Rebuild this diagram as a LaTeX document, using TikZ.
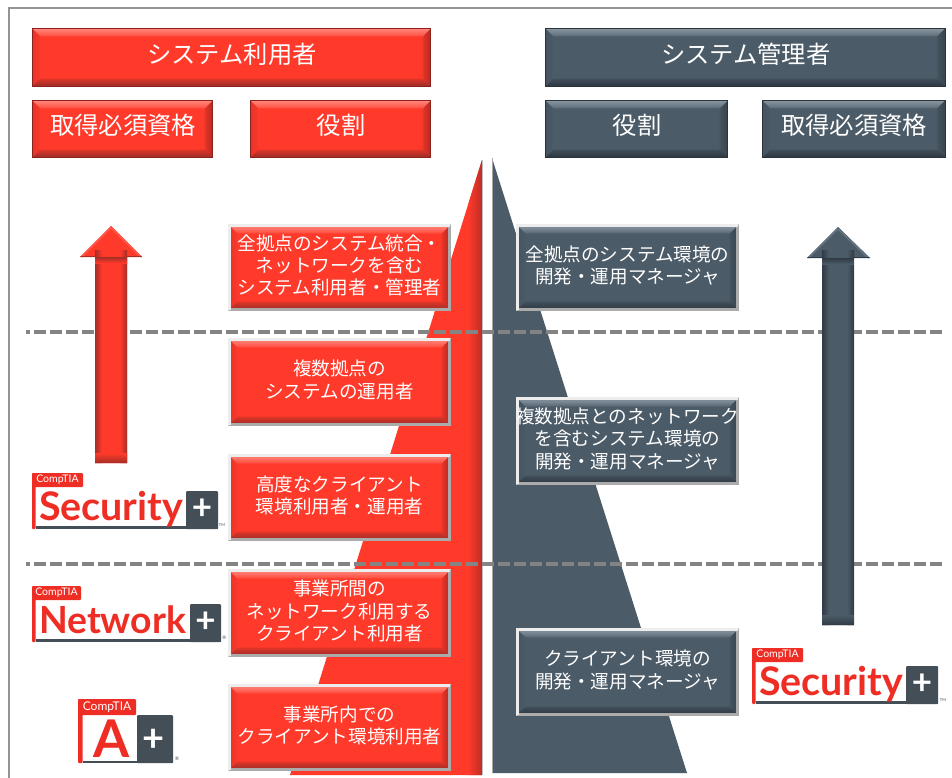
\documentclass[tikz,border=0pt]{standalone}
\usepackage{fontspec}
\usepackage{graphicx}
\setmainfont{Noto Sans CJK JP}
\newfontfamily\logofont{Lato}
\usetikzlibrary{calc}
\definecolor{rmain}{HTML}{FF3A2B}
\definecolor{rtop}{HTML}{FF8479}
\definecolor{rside}{HTML}{E8352A}
\definecolor{rsider}{HTML}{BE2C23}
\definecolor{rbot}{HTML}{A52E26}
\definecolor{redge}{HTML}{8A231D}
\definecolor{dmain}{HTML}{4B5B67}
\definecolor{dtop}{HTML}{8795A0}
\definecolor{dside}{HTML}{465561}
\definecolor{dsider}{HTML}{3A4751}
\definecolor{dbot}{HTML}{303A44}
\definecolor{dedge}{HTML}{2A333A}
\definecolor{lgred}{HTML}{EE2D24}
\definecolor{lgdark}{HTML}{434E57}
\definecolor{dashgray}{HTML}{848484}
\newcommand{\bevfill}[6]{% width, main, top, left, right, bottom
  \coordinate (nw) at (path picture bounding box.north west);
  \coordinate (ne) at (path picture bounding box.north east);
  \coordinate (sw) at (path picture bounding box.south west);
  \coordinate (se) at (path picture bounding box.south east);
  \foreach \w/\p in {1/35,0.8/55,0.6/70,0.4/85,0.2/100}{
    \fill[#4!\p!#2] (nw) -- (sw) -- ($(sw)+({#1*\w},{-#1*\w})$) -- ($(nw)+({#1*\w},{#1*\w})$) -- cycle;
    \fill[#5!\p!#2] (ne) -- (se) -- ($(se)+({-#1*\w},{-#1*\w})$) -- ($(ne)+({-#1*\w},{#1*\w})$) -- cycle;
    \fill[#3!\p!#2] (nw) -- (ne) -- ($(ne)+({-#1*\w},{#1*\w})$) -- ($(nw)+({#1*\w},{#1*\w})$) -- cycle;
    \fill[#6!\p!#2] (sw) -- (se) -- ($(se)+({-#1*\w},{-#1*\w})$) -- ($(sw)+({#1*\w},{-#1*\w})$) -- cycle;
  }
}
\tikzset{
  x=1pt,y=-1pt,
  bx/.style={rectangle,inner sep=0pt,outer sep=0pt},
  redbev/.style={bx,fill=rmain,path picture={\bevfill{#1}{rmain}{rtop}{rside}{rsider}{rbot}}},
  darkbev/.style={bx,fill=dmain,path picture={\bevfill{#1}{dmain}{dtop}{dside}{dsider}{dbot}}},
  headred/.style={redbev=8,draw=redge,line width=0.8pt},
  headdark/.style={darkbev=8,draw=dedge,line width=0.8pt},
  rolered/.style={redbev=8,draw=black!20,line width=2.6pt},
  roledark/.style={darkbev=8,draw=black!20,line width=2.6pt},
  headtext/.style={inner sep=0pt,outer sep=0pt,text=white,align=center,font=\fontsize{24.3}{28}\selectfont},
  roletext/.style={inner sep=0pt,outer sep=0pt,text=white,align=center,font=\fontsize{18.6}{22.4}\selectfont},
  levelline/.style={draw=dashgray,line width=3.4pt,dash pattern=on 12pt off 4pt,dash phase=8pt},
  logotext/.style={inner sep=0pt,outer sep=0pt,text=white},
}
% style, name, x1, y1, x2, y2, text
\newcommand{\headnode}[7]{%
  \node[#1,minimum width={#5-#3},minimum height={#6-#4}] (#2) at ({(#3+#5)/2},{(#4+#6)/2}) {};
  \node[headtext] (#2t) at ($(#2.center)+(0.5,-3.5)$) {#7};
}
\newcommand{\rolenode}[7]{%
  \node[#1,minimum width={#5-#3},minimum height={#6-#4}] (#2) at ({(#3+#5)/2},{(#4+#6)/2}) {};
  \draw[black!33,line width=2.6pt] (#2.south west) -- (#2.south east) -- (#2.north east);
  \draw[black!7,line width=2.6pt] (#2.south west) -- (#2.north west) -- (#2.north east);
  \node[roletext] (#2t) at ($(#2.center)+(0,-2)$) {#7};
}
% name, x, y, tab width, total width, plus-box width, word, word width
\newcommand{\wordlogo}[8]{%
  \begin{scope}[shift={(#2,#3)}]
    \fill[lgred,rounded corners=1pt] (0,0) rectangle (#4,14);
    \fill[lgred,rounded corners=1pt] (0,0) rectangle (3.5,56);
    \fill[lgdark] (3.5,53) rectangle (#5,56);
    \fill[lgdark,rounded corners=1pt] ({#5-#6},18) rectangle (#5,56);
    \node[logotext,font=\logofont\fontsize{10.5}{12}\selectfont] (#1tab) at ({#4/2},7) {CompTIA};
    \node[inner sep=0pt,outer sep=0pt,anchor=base west,text=lgred,font=\logofont\bfseries\fontsize{38}{40}\selectfont] (#1word) at (7,47) {\resizebox{#8pt}{!}{#7}};
    \node[logotext,font=\logofont\bfseries\fontsize{35}{36}\selectfont] (#1plus) at ({#5-#6/2},36.5) {+};
  \end{scope}
}
\begin{document}
\begin{tikzpicture}
\useasboundingbox (0,0) rectangle (952,778);
\fill[white] (0,0) rectangle (952,778);
% frame
\draw[black!42,line width=2pt] (952,8.5) -- (8.5,8.5) -- (8.5,778);
% triangles
\begin{scope}
  \clip (482,160) -- (482,775) -- (290,775) -- cycle;
  \fill[rmain] (280,150) rectangle (490,780);
  \shade[left color=rmain,right color=rsider] (468,150) rectangle (482,780);
\end{scope}
\draw[black!25,line width=1pt] (482.5,160) -- (482.5,775);
\begin{scope}
  \clip (492,158) -- (687,773) -- (492,773) -- cycle;
  \fill[dmain] (490,150) rectangle (700,780);
\end{scope}
\draw[black!35,line width=1pt] (492,158) -- (492,773);
% level lines
\coordinate (la) at (26,332); \coordinate (lb) at (945,332);
\coordinate (lc) at (26,564); \coordinate (ld) at (945,564);
\draw[levelline] (la) -- (lb);
\draw[levelline] (lc) -- (ld);
% arrows
\begin{scope}
  \path[clip] (111,226) -- (142,257) -- (127,257) -- (127,463) -- (95,463) -- (95,257) -- (80,257) -- cycle;
  \fill[rmain] (70,220) rectangle (150,470);
  \shade[left color=rbot,right color=rmain] (95,250) rectangle (102,470);
  \shade[left color=rmain,right color=rbot] (120,250) rectangle (127,470);
  \shade[top color=rmain,bottom color=rbot] (95,453) rectangle (127,463);
  \shade[top color=rbot,bottom color=rmain] (95,257) rectangle (127,263);
  \fill[rmain!65!rtop] (111,226) -- (80,257) -- (82.5,257) -- (111,229) -- (139.5,257) -- (142,257) -- cycle;
  \fill[rbot] (80,255.6) rectangle (95,257);
  \fill[rbot] (127,255.6) rectangle (142,257);
\end{scope}
\begin{scope}
  \path[clip] (838,227) -- (870,258) -- (854,258) -- (854,625) -- (822,625) -- (822,258) -- (807,258) -- cycle;
  \fill[dmain] (800,220) rectangle (880,630);
  \shade[left color=dbot,right color=dmain] (822,250) rectangle (829,630);
  \shade[left color=dmain,right color=dbot] (847,250) rectangle (854,630);
  \shade[top color=dmain,bottom color=dbot] (822,615) rectangle (854,625);
  \shade[top color=dbot,bottom color=dmain] (822,258) rectangle (854,264);
  \fill[dmain!60!dtop] (838,227) -- (807,258) -- (809.5,258) -- (838,230) -- (867,258) -- (870,258) -- cycle;
  \fill[dbot] (807,256.6) rectangle (822,258);
  \fill[dbot] (854,256.6) rectangle (870,258);
\end{scope}
% headers
\headnode{headred}{hu}{32.4}{28.4}{430.6}{86.6}{システム利用者}
\headnode{headred}{hq}{32.4}{100.4}{212.6}{157.6}{取得必須資格}
\headnode{headred}{hr}{250.4}{100.4}{430.6}{157.6}{役割}
\headnode{headdark}{au}{545.4}{28.4}{945}{86.6}{システム管理者}
\headnode{headdark}{ar}{545.4}{100.4}{727.6}{157.6}{役割}
\headnode{headdark}{aq}{762.4}{100.4}{945}{157.6}{取得必須資格}
% role boxes
\rolenode{rolered}{r1}{229.3}{225.3}{449.7}{309.7}{全拠点のシステム統合・\\ネットワークを含む\\システム利用者・管理者}
\rolenode{rolered}{r2}{229.3}{339.3}{449.7}{424.7}{複数拠点の\\システムの運用者}
\rolenode{rolered}{r3}{229.3}{455.3}{449.7}{539.7}{高度なクライアント\\環境利用者・運用者}
\rolenode{rolered}{r4}{229.3}{570.3}{449.7}{655.7}{事業所間の\\ネットワーク利用する\\クライアント利用者}
\rolenode{rolered}{r5}{229.3}{685.3}{449.7}{769.7}{事業所内での\\クライアント環境利用者}
\rolenode{roledark}{d1}{517.3}{225.3}{737.7}{309.7}{全拠点のシステム環境の\\開発・運用マネージャ}
\rolenode{roledark}{d2}{517.3}{398.3}{737.7}{483.7}{複数拠点とのネットワーク\\を含むシステム環境の\\開発・運用マネージャ}
\rolenode{roledark}{d3}{517.3}{629.3}{737.7}{714.7}{クライアント環境の\\開発・運用マネージャ}
% logos
\wordlogo{sa}{32}{473}{51}{186}{32}{Security}{144}
\node[inner sep=0pt,text=lgdark,font=\logofont\fontsize{4}{5}\selectfont] (satm) at (222,525.5) {TM};
\wordlogo{ne}{32}{586}{49}{189}{31}{Network}{147}
\node[inner sep=0pt,text=lgdark,font=\logofont\fontsize{5}{6}\selectfont] (nereg) at (224.5,638) {®};
\wordlogo{sb}{752}{648}{51}{186}{32}{Security}{144}
\node[inner sep=0pt,text=lgdark,font=\logofont\fontsize{4}{5}\selectfont] (sbtm) at (943,700) {TM};
% A+ logo
\fill[lgred,rounded corners=1pt] (78,699) rectangle (136,715);
\fill[lgred,rounded corners=1pt] (78,699) rectangle (82.5,763);
\fill[lgdark] (82.5,760.5) rectangle (173,763);
\fill[lgdark,rounded corners=1pt] (137,715) rectangle (173,763);
\node[logotext,font=\logofont\fontsize{12}{14}\selectfont] (aptab) at (107,707) {CompTIA};
\node[inner sep=0pt,outer sep=0pt,anchor=base,text=lgred,font=\logofont\bfseries\fontsize{52}{54}\selectfont] (apword) at (112,757) {A};
\node[logotext,font=\logofont\bfseries\fontsize{38}{40}\selectfont] (applus) at (154,740) {+};
\node[inner sep=0pt,text=lgdark,font=\logofont\fontsize{5}{6}\selectfont] (apreg) at (177,759) {®};
\end{tikzpicture}
\end{document}
